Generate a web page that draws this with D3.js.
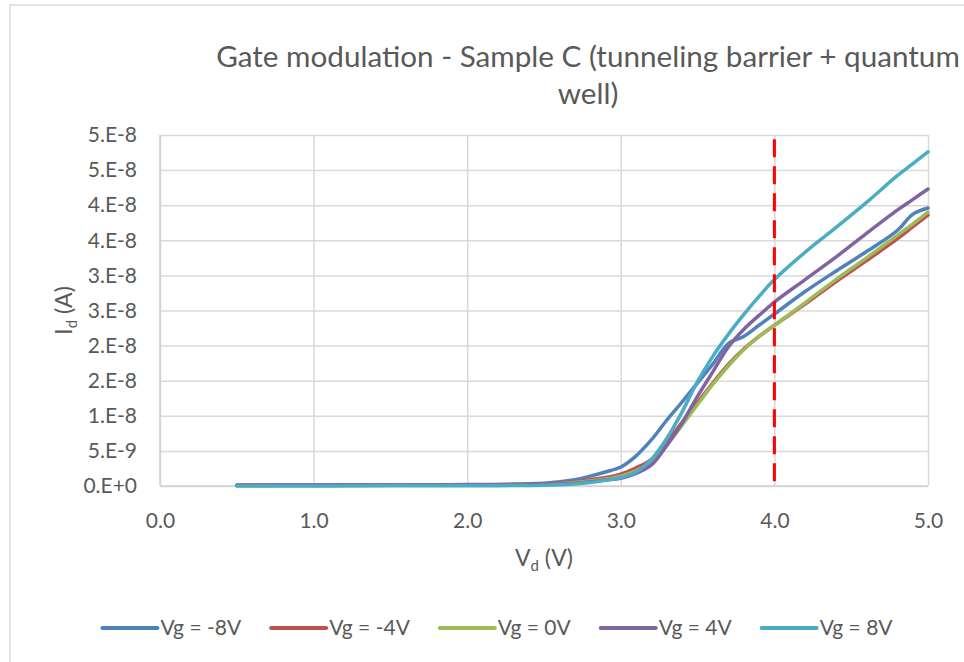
<!DOCTYPE html>
<html>
<head>
<meta charset="utf-8">
<script src="https://cdn.jsdelivr.net/npm/d3@7"></script>
<style>
  html, body { margin: 0; padding: 0; background: #fff; }
  svg { display: block; font-family: Lato, "Open Sans", sans-serif; }
</style>
</head>
<body>
<svg id="chart" width="964" height="662"></svg>
<script>
// Drain voltage sweep (V)
const vd = [0.5, 1.0, 1.5, 2.0, 2.5, 2.7, 2.8, 2.9, 3.0, 3.1, 3.2, 3.3, 3.4, 3.5, 3.6, 3.7, 3.8, 3.9, 4.0, 4.2, 4.4, 4.6, 4.8, 4.9, 5.0];

// Drain current per gate voltage, in nA
const idVgMinus8 = [0.1, 0.1, 0.15, 0.2, 0.4, 0.9, 1.4, 2.0, 2.7, 4.3, 6.6, 9.4, 12.0, 14.7, 17.4, 20.3, 21.3, 22.9, 24.5, 27.7, 30.6, 33.4, 36.4, 38.7, 39.6];
const idVgMinus4 = [0.1, 0.1, 0.1, 0.15, 0.3, 0.6, 0.9, 1.2, 1.7, 2.6, 3.8, 6.3, 9.1, 11.9, 14.7, 17.3, 19.5, 21.3, 22.9, 25.9, 29.1, 32.1, 35.2, 36.9, 38.6];
const idVg0      = [0.05, 0.05, 0.1, 0.1, 0.2, 0.5, 0.7, 1.0, 1.4, 2.2, 3.3, 5.8, 8.7, 11.6, 14.5, 17.1, 19.4, 21.3, 22.9, 26.1, 29.4, 32.5, 35.7, 37.3, 39.0];
const idVg4      = [0.1, 0.15, 0.15, 0.15, 0.2, 0.4, 0.6, 0.85, 1.1, 1.8, 3.0, 5.8, 9.0, 12.8, 16.3, 19.8, 22.3, 24.3, 26.2, 29.4, 32.6, 36.0, 39.3, 40.8, 42.3];
const idVg8      = [0.0, 0.0, 0.02, 0.05, 0.1, 0.3, 0.5, 0.8, 1.2, 2.0, 3.8, 6.8, 10.6, 14.9, 18.5, 21.6, 24.4, 27.0, 29.4, 33.3, 36.8, 40.4, 44.2, 45.9, 47.6];

const seriesNames = ["Vg = -8V", "Vg = -4V", "Vg = 0V", "Vg = 4V", "Vg = 8V"];
const seriesValues = [idVgMinus8, idVgMinus4, idVg0, idVg4, idVg8];

// Reference drain voltage marker (V) and its current span (A)
const markerVd = 4.0;
const markerSpan = [4.94e-8, 0];

// Axis ticks
const xTicks = [0, 1, 2, 3, 4, 5];
const xTickLabels = ["0.0", "1.0", "2.0", "3.0", "4.0", "5.0"];
const yTicks = [0, 5e-9, 1e-8, 1.5e-8, 2e-8, 2.5e-8, 3e-8, 3.5e-8, 4e-8, 4.5e-8, 5e-8];
const yTickLabels = ["0.E+0", "5.E-9", "1.E-8", "2.E-8", "2.E-8", "3.E-8", "3.E-8", "4.E-8", "4.E-8", "5.E-8", "5.E-8"];

const titleLines = ["Gate modulation - Sample C (tunneling barrier + quantum", "well)"];

// Styling
const palette = ["#4F81BD", "#C0504D", "#9BBB59", "#8064A2", "#4BACC6"];
const textColor = "#595959";
const gridColor = "#D9D9D9";
const nA = 1e-9;

const svg = d3.select("#chart");

// Chart frame
svg.append("path")
  .attr("d", "M10,662 L10,5 L964,5")
  .attr("fill", "none")
  .attr("stroke", gridColor)
  .attr("stroke-width", 1.5);

const plot = { left: 160, right: 928, top: 135, bottom: 486 };
const x = d3.scaleLinear().domain([0, 5]).range([plot.left, plot.right]);
const y = d3.scaleLinear().domain([0, 5e-8]).range([plot.bottom, plot.top]);

// Y axis with horizontal gridlines
const yAxis = svg.append("g")
  .attr("transform", `translate(${plot.left},0)`)
  .call(d3.axisLeft(y)
    .tickValues(yTicks)
    .tickSize(-(plot.right - plot.left))
    .tickPadding(23)
    .tickFormat((d, i) => yTickLabels[i]));
yAxis.select(".domain").remove();
yAxis.selectAll(".tick line").attr("stroke", gridColor).attr("stroke-width", 1.5);
yAxis.selectAll(".tick text")
  .attr("fill", textColor)
  .attr("font-size", 21)
  .attr("font-family", "Lato, 'Open Sans', sans-serif");

// X axis with vertical gridlines
const xAxis = svg.append("g")
  .attr("transform", `translate(0,${plot.bottom})`)
  .call(d3.axisBottom(x)
    .tickValues(xTicks)
    .tickSize(-(plot.bottom - plot.top))
    .tickPadding(27)
    .tickFormat((d, i) => xTickLabels[i]));
xAxis.select(".domain").remove();
xAxis.selectAll(".tick line").attr("stroke", gridColor).attr("stroke-width", 1.5);
xAxis.selectAll(".tick text")
  .attr("fill", textColor)
  .attr("font-size", 21)
  .attr("font-family", "Lato, 'Open Sans', sans-serif");

// Axis lines
svg.append("line")
  .attr("x1", plot.left).attr("x2", plot.left)
  .attr("y1", plot.top).attr("y2", plot.bottom)
  .attr("stroke", "#D0D0D0").attr("stroke-width", 1.5);
svg.append("line")
  .attr("x1", plot.left).attr("x2", plot.right)
  .attr("y1", plot.bottom).attr("y2", plot.bottom)
  .attr("stroke", "#D0D0D0").attr("stroke-width", 1.5);

// Current curves
const line = d3.line()
  .x((d, i) => x(vd[i]))
  .y(d => y(d * nA))
  .curve(d3.curveCatmullRom.alpha(0.5));

svg.append("g")
  .selectAll("path")
  .data(seriesValues)
  .join("path")
  .attr("d", line)
  .attr("fill", "none")
  .attr("stroke", (d, i) => palette[i])
  .attr("stroke-width", 3.5)
  .attr("stroke-linejoin", "round")
  .attr("stroke-linecap", "round");

// Dashed marker at the reference drain voltage
svg.append("line")
  .attr("x1", x(markerVd)).attr("x2", x(markerVd))
  .attr("y1", y(markerSpan[0])).attr("y2", y(markerSpan[1]))
  .attr("stroke", "#FF0000")
  .attr("stroke-width", 3)
  .attr("stroke-dasharray", "18,9");

// Title, fitted to its first line width
const titleCx = 588;
const title = svg.append("g").attr("fill", textColor);
const t1 = title.append("text")
  .attr("x", titleCx).attr("y", 67)
  .attr("text-anchor", "middle")
  .attr("font-size", 28)
  .text(titleLines[0]);
const fitted = 28 * 744 / t1.node().getComputedTextLength();
t1.attr("font-size", fitted);
title.append("text")
  .attr("x", titleCx).attr("y", 104)
  .attr("text-anchor", "middle")
  .attr("font-size", fitted)
  .text(titleLines[1]);

// Axis titles
const yTitle = svg.append("text")
  .attr("transform", `translate(72,${(plot.top + plot.bottom) / 2}) rotate(-90)`)
  .attr("text-anchor", "middle")
  .attr("fill", textColor)
  .attr("font-size", 23);
yTitle.append("tspan").text("I");
yTitle.append("tspan").attr("font-size", 15).attr("dy", 5).text("d");
yTitle.append("tspan").attr("dy", -5).text(" (A)");

const xTitle = svg.append("text")
  .attr("x", (plot.left + plot.right) / 2)
  .attr("y", 566)
  .attr("text-anchor", "middle")
  .attr("fill", textColor)
  .attr("font-size", 23);
xTitle.append("tspan").text("V");
xTitle.append("tspan").attr("font-size", 15).attr("dy", 5).text("d");
xTitle.append("tspan").attr("dy", -5).text(" (V)");

// Legend
const legendCx = 497.5, legendY = 628;
const legend = svg.append("g");
const items = legend.selectAll("g")
  .data(seriesNames)
  .join("g");
items.append("line")
  .attr("x1", 0).attr("x2", 55)
  .attr("y1", 0).attr("y2", 0)
  .attr("stroke", (d, i) => palette[i])
  .attr("stroke-width", 4)
  .attr("stroke-linecap", "round");
items.append("text")
  .attr("x", 58)
  .attr("dy", "0.35em")
  .attr("fill", textColor)
  .attr("font-size", 21)
  .text(d => d);
let widths = [];
items.each(function () { widths.push(58 + d3.select(this).select("text").node().getComputedTextLength()); });
const gap = 30;
const total = d3.sum(widths) + gap * (widths.length - 1);
let cursor = legendCx - total / 2;
items.attr("transform", (d, i) => {
  const tx = cursor;
  cursor += widths[i] + gap;
  return `translate(${tx},${legendY})`;
});
</script>
</body>
</html>
